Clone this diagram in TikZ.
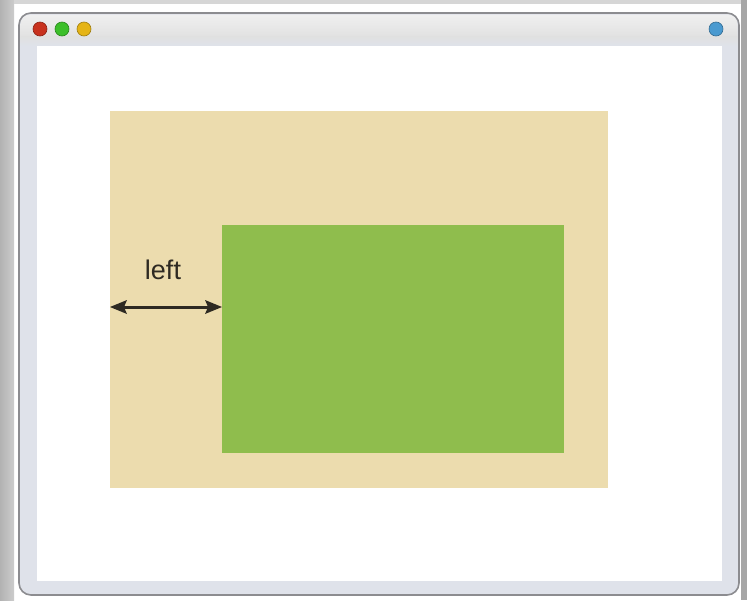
\documentclass[tikz,border=0pt]{standalone}
\usepackage{fontspec}
\setmainfont{Liberation Sans}
\usetikzlibrary{arrows.meta}
\definecolor{tan}{HTML}{ECDCAE}
\definecolor{leaf}{HTML}{8FBD4D}
\definecolor{frame}{HTML}{DFE2EA}
\definecolor{edge}{HTML}{8C8C90}
\definecolor{ink}{HTML}{2E2A22}
\definecolor{lred}{HTML}{C8321E}
\definecolor{lgreen}{HTML}{3CBF2A}
\definecolor{lyellow}{HTML}{E5B416}
\definecolor{lblue}{HTML}{4A9AD0}
\tikzset{
  light/.style={circle, minimum size=14pt, inner sep=0pt, draw=#1!70!black, line width=0.6pt, fill=#1},
  panel/.style={rectangle, inner sep=0pt, draw=none},
  tip/.tip={Stealth[length=17pt,width=14pt,inset=3pt,line width=0pt]},
  dim/.style={draw=ink, line width=3pt, tip-tip}
}
\begin{document}
\begin{tikzpicture}[x=1pt,y=-1pt]
\useasboundingbox (0,0) rectangle (747,600);
\fill[white] (0,0) rectangle (747,600);
% outer background strips
\shade[left color=gray!60, right color=gray!40] (0,0) rectangle (14,600);
\fill[gray!32] (14,0) rectangle (741,4);
\fill[gray!70] (741,0) rectangle (747,600);
% window frame
\draw[edge, line width=1.6pt, fill=frame, rounded corners=12pt] (19,13) rectangle (739,595);
\shade[top color=gray!12, bottom color=gray!28, rounded corners=10pt] (20.5,14.5) rectangle (737.5,46);
\shade[top color=gray!24, bottom color=frame] (20.5,36) rectangle (737.5,46);
\fill[white] (37,46) rectangle (722,581);
% traffic lights
\node[light=lred] (close) at (40,29) {};
\node[light=lgreen] (mini) at (62,29) {};
\node[light=lyellow] (zoom) at (84,29) {};
\node[light=lblue] (tool) at (716,29) {};
% views
\node[panel, fill=tan, minimum width=498pt, minimum height=377pt, anchor=north west] (super) at (110,111) {};
\node[panel, fill=leaf, minimum width=342pt, minimum height=228pt, anchor=north west] (sub) at (222,225) {};
\coordinate (a) at (super.west |- 0,307);
\coordinate (b) at (sub.west |- 0,307);
\draw[dim] (a) -- (b);
\node[font=\fontsize{27}{30}\selectfont, text=ink] (lbl) at (163,270) {left};
\end{tikzpicture}
\end{document}
